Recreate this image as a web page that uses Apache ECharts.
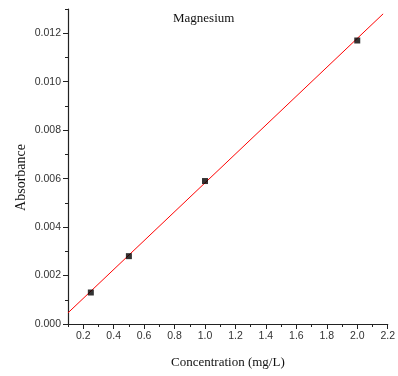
<!DOCTYPE html>
<html>
<head>
<meta charset="utf-8">
<script src="https://cdn.jsdelivr.net/npm/echarts@6/dist/echarts.min.js"></script>
<style>
  html, body { margin: 0; padding: 0; background: #fff; }
  #chart { width: 398px; height: 376px; }
</style>
</head>
<body>
<div id="chart"></div>
<script>
// Calibration standards: concentration (mg/L) and measured absorbance
const concentration = [0.25, 0.5, 1.0, 2.0];
const absorbance = [0.0013, 0.0028, 0.0059, 0.0117];

// Least-squares fit line, drawn between its two end points
const fitX = [0.1, 2.17];
const fitY = [0.00046, 0.0128];

// Labelled (major) tick positions
const xTicks = [0.2, 0.4, 0.6, 0.8, 1.0, 1.2, 1.4, 1.6, 1.8, 2.0, 2.2];
const yTicks = [0.000, 0.002, 0.004, 0.006, 0.008, 0.010, 0.012];

const serif = 'Liberation Serif';
const sans = 'Liberation Sans';

const chart = echarts.init(document.getElementById('chart'), null, { renderer: 'canvas' });

const xBase = { type: 'value', min: 0.1, max: 2.2, position: 'bottom' };
const yBase = { type: 'value', min: 0, max: 0.013, position: 'left' };

chart.setOption({
  animation: false,
  title: {
    text: 'Magnesium',
    left: 168,
    top: 7,
    textStyle: { fontFamily: serif, fontSize: 13, fontWeight: 'normal', color: '#111' }
  },
  grid: { left: 68, right: 10, top: 9, bottom: 52, containLabel: false },
  xAxis: [
    Object.assign({}, xBase, {
      interval: 0.1,
      name: 'Concentration (mg/L)',
      nameLocation: 'middle',
      nameGap: 32,
      nameTextStyle: { fontFamily: serif, fontSize: 13, color: '#111' },
      axisLine: { show: true, lineStyle: { color: '#222', width: 1.2 } },
      axisTick: { show: true, inside: false, length: 3, lineStyle: { color: '#222' } },
      axisLabel: { show: false },
      splitLine: { show: false }
    }),
    Object.assign({}, xBase, {
      axisLine: { show: false },
      axisTick: { show: true, inside: false, length: 5, customValues: xTicks, lineStyle: { color: '#222' } },
      axisLabel: {
        show: true, customValues: xTicks, margin: 7,
        fontFamily: sans, fontSize: 10.5, color: '#333',
        formatter: v => v.toFixed(1)
      },
      splitLine: { show: false }
    })
  ],
  yAxis: [
    Object.assign({}, yBase, {
      interval: 0.001,
      name: 'Absorbance',
      nameLocation: 'middle',
      nameGap: 40,
      nameTextStyle: { fontFamily: serif, fontSize: 14, color: '#111', padding: [0, 22, 0, 0] },
      axisLine: { show: true, lineStyle: { color: '#222', width: 1.2 } },
      axisTick: { show: true, inside: false, length: 3, lineStyle: { color: '#222' } },
      axisLabel: { show: false },
      splitLine: { show: false }
    }),
    Object.assign({}, yBase, {
      axisLine: { show: false },
      axisTick: { show: true, inside: false, length: 5, customValues: yTicks, lineStyle: { color: '#222' } },
      axisLabel: {
        show: true, customValues: yTicks, margin: 7,
        fontFamily: sans, fontSize: 10.5, color: '#333',
        formatter: v => v.toFixed(3)
      },
      splitLine: { show: false }
    })
  ],
  series: [
    {
      type: 'line',
      xAxisIndex: 0, yAxisIndex: 0,
      data: fitX.map((x, i) => [x, fitY[i]]),
      showSymbol: false,
      lineStyle: { color: '#ff0000', width: 1 },
      z: 2
    },
    {
      type: 'scatter',
      xAxisIndex: 0, yAxisIndex: 0,
      data: concentration.map((x, i) => [x, absorbance[i]]),
      symbol: 'rect',
      symbolSize: 6,
      itemStyle: { color: '#000' },
      z: 3
    }
  ]
});
</script>
</body>
</html>
